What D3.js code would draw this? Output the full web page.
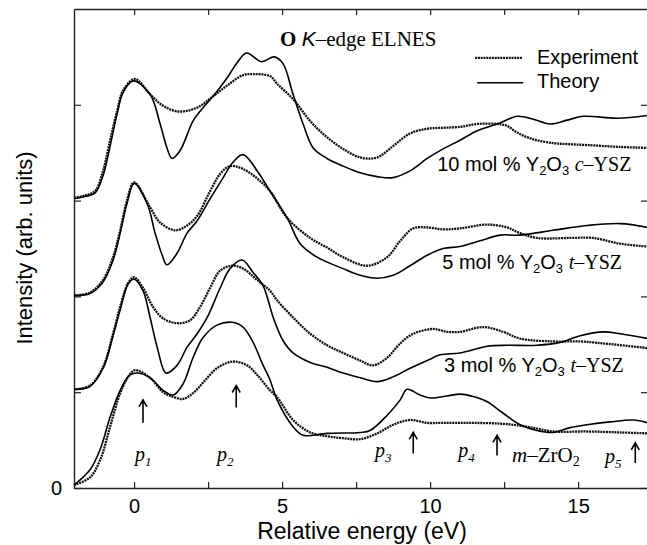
<!DOCTYPE html>
<html>
<head>
<meta charset="utf-8">
<script src="https://cdn.jsdelivr.net/npm/d3@7"></script>
<style>
body { margin: 0; background: #fff; }
.axis text { font-family: "Liberation Sans", Arial, Helvetica, sans-serif; font-size: 20px; fill: #000; }
.axis path, .axis line { stroke: #222; stroke-width: 1.2; }
</style>
</head>
<body>
<div id="chart"></div>
<script>
// spectra, [energy (eV), intensity], each set offset by one unit
var exp10 = [[-2.03,3.03],[-1.7,3.05],[-1.32,3.10],[-1.05,3.31],[-0.81,3.63],[-0.57,3.94],[-0.37,4.15],[0.03,4.27],[0.54,4.11],[0.98,3.99],[1.49,3.93],[2.13,3.97],[2.67,4.09],[3.14,4.20],[3.68,4.31],[4.02,4.32],[4.59,4.30],[4.83,4.22],[5.37,4.06],[5.95,3.83],[6.52,3.66],[7.06,3.54],[7.64,3.45],[8.21,3.45],[8.75,3.57],[9.32,3.70],[9.90,3.75],[10.44,3.76],[11.01,3.77],[11.59,3.80],[12.26,3.80],[12.60,3.78],[12.94,3.71],[13.48,3.64],[14.16,3.60],[14.63,3.59],[15.30,3.58],[16.42,3.56],[17.36,3.55]];
var th10 = [[-2.03,3.02],[-1.7,3.04],[-1.32,3.08],[-1.05,3.26],[-0.81,3.57],[-0.57,3.91],[-0.37,4.13],[-0.03,4.25],[0.54,4.11],[0.88,3.80],[1.11,3.55],[1.28,3.44],[1.55,3.52],[1.99,3.83],[2.33,3.97],[2.67,4.09],[3.14,4.28],[3.48,4.44],[3.80,4.54],[4.30,4.45],[4.74,4.50],[5.03,4.43],[5.37,4.11],[5.71,3.80],[6.05,3.55],[6.52,3.44],[7.06,3.36],[7.64,3.29],[8.21,3.25],[8.75,3.24],[9.32,3.31],[9.90,3.44],[10.44,3.54],[11.01,3.63],[11.59,3.73],[12.36,3.81],[12.94,3.88],[13.48,3.85],[14.05,3.80],[14.63,3.84],[15.17,3.88],[16.32,3.86],[17.36,3.89]];
var exp5 = [[-2.03,2.01],[-1.49,2.04],[-1.05,2.17],[-0.71,2.41],[-0.47,2.69],[-0.24,3.00],[0,3.19],[0.54,2.93],[0.88,2.77],[1.39,2.69],[1.79,2.74],[2.13,2.84],[2.57,3.10],[2.91,3.28],[3.24,3.36],[3.68,3.33],[4.16,3.23],[4.59,3.10],[5.17,2.82],[5.95,2.61],[6.52,2.51],[7.06,2.41],[7.87,2.32],[8.55,2.41],[8.99,2.58],[9.43,2.71],[9.90,2.72],[10.44,2.70],[11.01,2.71],[11.93,2.75],[12.60,2.72],[13.04,2.66],[13.61,2.61],[14.73,2.61],[15.51,2.61],[16.42,2.55],[17.36,2.52]];
var th5 = [[-2.03,2.01],[-1.49,2.03],[-1.05,2.15],[-0.71,2.38],[-0.47,2.66],[-0.24,2.97],[0,3.18],[0.44,2.97],[0.71,2.66],[0.95,2.43],[1.11,2.33],[1.45,2.45],[1.79,2.66],[2.13,2.79],[2.57,3.02],[3.01,3.24],[3.34,3.40],[3.68,3.48],[4.16,3.31],[4.59,3.10],[5.17,2.82],[5.61,2.55],[6.18,2.41],[7.06,2.29],[7.64,2.22],[8.21,2.19],[8.75,2.22],[9.32,2.32],[9.90,2.43],[10.44,2.50],[11.01,2.52],[11.69,2.58],[12.36,2.64],[13.04,2.64],[14.16,2.69],[15.30,2.74],[16.42,2.76],[17.36,2.72]];
var exp3 = [[-2.03,1.03],[-1.49,1.07],[-1.05,1.26],[-0.71,1.61],[-0.47,1.89],[-0.20,2.14],[0,2.20],[0.30,2.09],[0.64,1.89],[0.98,1.77],[1.45,1.72],[1.89,1.75],[2.23,1.89],[2.57,2.09],[2.91,2.27],[3.31,2.32],[3.68,2.29],[4.16,2.17],[4.59,2.06],[4.83,1.96],[5.37,1.78],[5.95,1.61],[6.52,1.49],[7.06,1.41],[7.64,1.33],[8.07,1.28],[8.55,1.36],[8.99,1.51],[9.43,1.61],[10.10,1.66],[10.57,1.63],[11.01,1.63],[11.79,1.68],[12.47,1.63],[13.04,1.56],[14.16,1.53],[15.07,1.53],[15.84,1.51],[17.36,1.46]];
var th3 = [[-2.03,1.03],[-1.49,1.06],[-1.05,1.25],[-0.71,1.59],[-0.47,1.86],[-0.20,2.13],[0,2.18],[0.30,2.06],[0.54,1.78],[0.78,1.47],[1.08,1.20],[1.45,1.28],[1.79,1.47],[2.13,1.61],[2.47,1.78],[2.91,2.09],[3.24,2.29],[3.65,2.38],[4.02,2.25],[4.36,2.11],[4.70,1.78],[5.03,1.54],[5.37,1.41],[5.95,1.31],[6.52,1.26],[7.06,1.20],[7.64,1.15],[8.21,1.11],[8.75,1.16],[9.32,1.25],[9.90,1.33],[10.34,1.39],[11.01,1.41],[11.93,1.48],[12.60,1.49],[13.61,1.49],[14.39,1.52],[15.07,1.59],[15.84,1.63],[16.42,1.61],[17.36,1.56]];
var expZ = [[-2.03,0.03],[-1.49,0.11],[-1.15,0.29],[-0.81,0.64],[-0.47,0.99],[-0.20,1.16],[0.03,1.23],[0.54,1.15],[0.98,1.00],[1.32,0.95],[1.66,0.93],[1.99,0.99],[2.33,1.10],[2.80,1.25],[3.34,1.32],[3.82,1.28],[4.16,1.18],[4.59,1.02],[4.83,0.95],[5.37,0.71],[5.95,0.58],[6.52,0.54],[7.06,0.52],[7.64,0.51],[8.21,0.57],[8.75,0.66],[9.32,0.71],[9.90,0.68],[10.44,0.68],[11.35,0.68],[12.47,0.67],[13.28,0.64],[14.16,0.59],[15.30,0.59],[16.42,0.58],[17.36,0.57]];
var thZ = [[-2.03,0.03],[-1.49,0.19],[-1.15,0.40],[-0.81,0.74],[-0.47,1.02],[-0.14,1.18],[0.14,1.20],[0.54,1.15],[0.98,1.02],[1.32,0.97],[1.66,1.09],[1.99,1.36],[2.33,1.57],[2.80,1.70],[3.31,1.73],[3.68,1.68],[4.02,1.52],[4.36,1.28],[4.59,1.13],[4.83,0.92],[5.37,0.64],[5.71,0.55],[6.52,0.57],[7.64,0.58],[7.97,0.60],[8.55,0.76],[8.99,0.92],[9.22,1.03],[9.66,0.97],[10.0,0.94],[10.57,0.96],[11.01,0.98],[11.52,0.95],[11.93,0.90],[12.47,0.78],[13.04,0.66],[13.61,0.60],[14.16,0.58],[14.73,0.63],[15.30,0.66],[16.08,0.69],[16.86,0.71],[17.36,0.68]];

var xTicks = [0, 2.5, 5, 7.5, 10, 12.5, 15];
var xTickLabels = [0, 5, 10, 15];
var yTicks = [0, 1, 2, 3, 4];

// sample labels: concentration, phase letter, position [E, I]
var samplePct = ["10", "5", "3"];
var samplePhase = ["c", "t", "t"];
var samplePos = [[10.24, 3.31], [10.41, 2.29], [10.47, 1.21]];

// peak markers: subscript, label position, arrow [E, top, bottom]
var peakNames = ["1", "2", "3", "4", "5"];
var peakLabelPos = [[0.03, 0.28], [2.80, 0.28], [8.14, 0.32], [10.95, 0.32], [15.91, 0.26]];
var peakArrows = [[0.30, 0.92, 0.68], [3.45, 1.07, 0.84], [9.43, 0.58, 0.36], [12.26, 0.55, 0.34], [16.93, 0.47, 0.26]];

var sans = "'Liberation Sans', Arial, Helvetica, sans-serif";
var serif = "'Liberation Serif', 'Times New Roman', Times, serif";

var margin = {top: 9, right: 0, bottom: 57, left: 74},
    width = 574,
    height = 545 - margin.top - margin.bottom;

var x = d3.scaleLinear().domain([-2.03, 17.36]).range([0, width]);
var y = d3.scaleLinear().domain([0, 5]).range([height, 0]);

var svg = d3.select("#chart").append("svg")
    .attr("width", 647)
    .attr("height", 545)
  .append("g")
    .attr("transform", "translate(" + margin.left + "," + margin.top + ")");

// axes on all four sides, ticks pointing in
svg.append("g").attr("class", "axis")
    .attr("transform", "translate(0," + height + ")")
    .call(d3.axisBottom(x).tickValues(xTicks).tickSizeInner(-6).tickSizeOuter(0).tickPadding(11)
      .tickFormat(function(d) { return xTickLabels.indexOf(d) >= 0 ? d : ""; }));
svg.append("g").attr("class", "axis")
    .call(d3.axisTop(x).tickValues(xTicks).tickSizeInner(-6).tickSizeOuter(0).tickFormat(""));
svg.append("g").attr("class", "axis")
    .call(d3.axisLeft(y).tickValues(yTicks).tickSizeInner(-7).tickSizeOuter(0).tickPadding(12)
      .tickFormat(function(d) { return d === 0 ? "0" : ""; }));
svg.append("g").attr("class", "axis")
    .attr("transform", "translate(" + width + ",0)")
    .call(d3.axisRight(y).tickValues(yTicks).tickSizeInner(-7).tickSizeOuter(0).tickFormat(""));
svg.selectAll(".axis .domain").style("stroke-width", 1.4);

var line = d3.line()
    .x(function(d) { return x(d[0]); })
    .y(function(d) { return y(d[1]); })
    .curve(d3.curveCatmullRom.alpha(0.5));

[exp10, exp5, exp3, expZ].forEach(function(s) {
  svg.append("path").datum(s)
    .attr("d", line)
    .attr("fill", "none")
    .attr("stroke", "#111")
    .attr("stroke-width", 2.3)
    .attr("stroke-dasharray", "2,0.8");
});
[th10, th5, th3, thZ].forEach(function(s) {
  svg.append("path").datum(s)
    .attr("d", line)
    .attr("fill", "none")
    .attr("stroke", "#000")
    .attr("stroke-width", 1.6);
});

// title
var title = svg.append("text")
    .attr("x", x(4.93)).attr("y", y(4.61))
    .style("font-size", "21px");
title.append("tspan").style("font-family", serif).style("font-weight", "bold").text("O ");
title.append("tspan").style("font-family", sans).style("font-style", "italic").text("K");
title.append("tspan").style("font-family", serif).text("\u2013edge ELNES");

// legend
var legend = svg.append("g");
legend.append("line")
    .attr("x1", x(11.52)).attr("x2", x(13.11)).attr("y1", y(4.49)).attr("y2", y(4.49))
    .attr("stroke", "#111").attr("stroke-width", 2.3).attr("stroke-dasharray", "2,0.8");
legend.append("line")
    .attr("x1", x(11.59)).attr("x2", x(13.14)).attr("y1", y(4.23)).attr("y2", y(4.23))
    .attr("stroke", "#000").attr("stroke-width", 1.6);
legend.append("text").attr("x", x(13.61)).attr("y", y(4.43))
    .style("font-family", sans).style("font-size", "20px").text("Experiment");
legend.append("text").attr("x", x(13.61)).attr("y", y(4.18))
    .style("font-family", sans).style("font-size", "20px").text("Theory");

// sample labels
samplePct.forEach(function(p, i) {
  var t = svg.append("text")
      .attr("x", x(samplePos[i][0])).attr("y", y(samplePos[i][1]))
      .style("font-family", sans).style("font-size", "20px");
  t.append("tspan").text(p + " mol % Y");
  t.append("tspan").attr("dy", 4).style("font-size", "13px").text("2");
  t.append("tspan").attr("dy", -4).text("O");
  t.append("tspan").attr("dy", 4).style("font-size", "13px").text("3");
  t.append("tspan").attr("dy", -4).text(" ");
  t.append("tspan").style("font-family", serif).style("font-style", "italic").text(samplePhase[i]);
  t.append("tspan").style("font-family", serif).text("\u2013YSZ");
});

// peak labels and arrows
peakNames.forEach(function(n, i) {
  var t = svg.append("text")
      .attr("x", x(peakLabelPos[i][0])).attr("y", y(peakLabelPos[i][1]))
      .style("font-family", serif).style("font-style", "italic").style("font-size", "20px");
  t.append("tspan").text("p");
  t.append("tspan").attr("dy", 5).style("font-size", "13px").text(n);
  var a = peakArrows[i];
  svg.append("path")
    .attr("d", "M" + x(a[0]) + "," + y(a[2]) + "V" + y(a[1]) +
               "M" + (x(a[0]) - 4) + "," + (y(a[1]) + 7) + "L" + x(a[0]) + "," + y(a[1]) +
               "L" + (x(a[0]) + 4) + "," + (y(a[1]) + 7))
    .attr("fill", "none").attr("stroke", "#000").attr("stroke-width", 1.6);
});
var mz = svg.append("text")
    .attr("x", x(12.77)).attr("y", y(0.27))
    .style("font-family", serif).style("font-size", "21px");
mz.append("tspan").style("font-style", "italic").text("m");
mz.append("tspan").text("\u2013ZrO");
mz.append("tspan").attr("dy", 4).style("font-size", "14px").text("2");

// axis titles
svg.append("text")
    .attr("x", x(7.7)).attr("y", height + 51)
    .style("text-anchor", "middle")
    .style("font-family", sans).style("font-size", "23px")
    .text("Relative energy (eV)");
svg.append("text")
    .attr("transform", "rotate(-90)")
    .attr("x", -239).attr("y", -42)
    .style("text-anchor", "middle")
    .style("font-family", sans).style("font-size", "22px")
    .text("Intensity (arb. units)");
</script>
</body>
</html>
